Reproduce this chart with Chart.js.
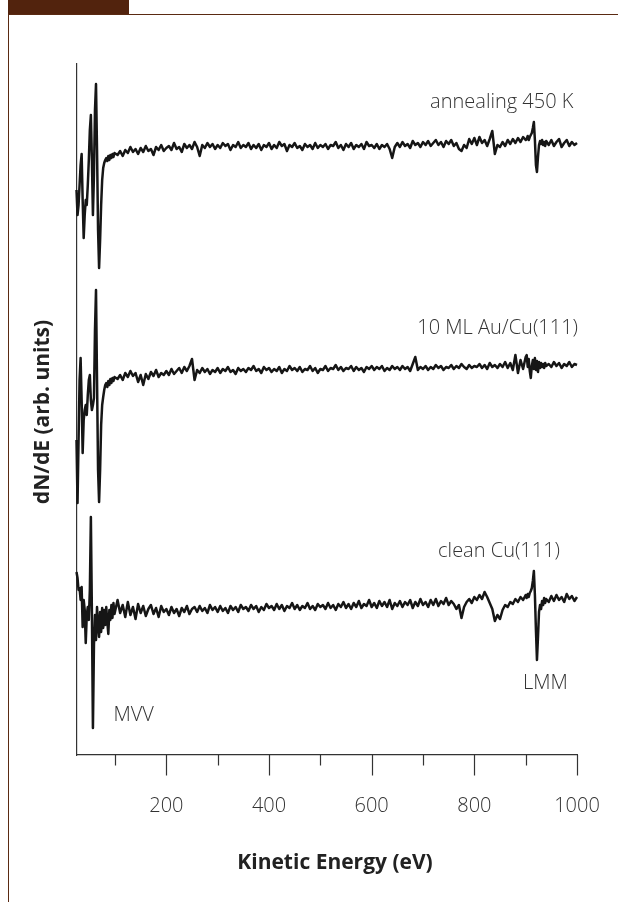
<!DOCTYPE html>
<html>
<head>
<meta charset="utf-8">
<script src="https://cdn.jsdelivr.net/npm/chart.js@4.4.0/dist/chart.umd.min.js"></script>
<style>
  html, body { margin: 0; padding: 0; background: #fff; }
  #wrap { position: relative; width: 618px; height: 902px; overflow: hidden; }
  #tab { position: absolute; left: 8px; top: 0; width: 121px; height: 14px; background: #52230d; }
  #rule { position: absolute; left: 8px; top: 14px; width: 610px; height: 1px; background: #5a2a12; }
  #side { position: absolute; left: 8px; top: 14px; width: 1px; height: 888px; background: #5a2a12; }
  canvas { position: absolute; left: 0; top: 0; }
</style>
</head>
<body>
<div id="wrap">
  <canvas id="myChart" width="618" height="902"></canvas>
  <div id="tab"></div><div id="rule"></div><div id="side"></div>
</div>
<script>
// kinetic energy (eV)
let energy = [
  25, 27, 29, 31, 33, 35, 37, 39, 41, 43, 45, 47, 49, 51, 53, 55, 57, 59, 61, 63,
  65, 67, 69, 71, 73, 75, 77, 79, 81, 83, 85, 87, 89, 91, 93, 95, 97, 99,
  105, 110, 115, 120, 125, 130, 135, 140, 145, 150,
  155, 160, 165, 170, 175, 180, 185, 190, 195, 200,
  205, 210, 215, 220, 225, 230, 235, 240, 245, 250,
  255, 260, 265, 270, 275, 280, 285, 290, 295, 300,
  305, 310, 315, 320, 325, 330, 335, 340, 345, 350,
  355, 360, 365, 370, 375, 380, 385, 390, 395, 400,
  405, 410, 415, 420, 425, 430, 435, 440, 445, 450,
  455, 460, 465, 470, 475, 480, 485, 490, 495, 500,
  505, 510, 515, 520, 525, 530, 535, 540, 545, 550,
  555, 560, 565, 570, 575, 580, 585, 590, 595, 600,
  605, 610, 615, 620, 625, 630, 635, 640, 645, 650,
  655, 660, 665, 670, 675, 680, 685, 690, 695, 700,
  705, 710, 715, 720, 725, 730, 735, 740, 745, 750,
  755, 760, 765, 770, 775, 780, 785, 790, 795, 800,
  805, 810, 815, 820, 825, 830, 835, 840, 845, 850,
  855, 860, 865, 870, 875, 880, 885, 890, 895, 900,
  902, 904, 906, 908, 910, 912, 914, 916, 918, 920,
  922, 924, 926, 928, 930, 932, 934, 936, 938, 940,
  945, 950, 955, 960, 965, 970, 975, 980, 985, 990, 995, 1000,
  1003
];

// dN/dE, arb. units (stacked as in the figure)
let annealed = [
  56.5, 54.0, 55.0, 57.0, 59.0, 60.1, 55.5, 51.7, 54.0, 55.5, 55.0, 57.0, 59.5, 62.5, 64.0, 59.5, 54.0, 58.0, 64.5, 67.1,
  60.5, 52.5, 48.7, 51.5, 55.0, 57.5, 58.7, 59.2, 59.5, 59.7, 59.4, 59.9, 59.5, 60.0, 59.7, 60.1, 59.8, 60.2,
  60.0, 60.4, 59.9, 60.5, 60.2, 60.8, 60.3, 60.6, 60.1, 60.7,
  60.3, 60.9, 60.4, 60.6, 60.0, 60.8, 60.5, 61.0, 60.4, 60.7,
  60.9, 60.5, 61.2, 60.6, 60.8, 60.3, 61.1, 60.7, 61.0, 60.6,
  61.3, 60.8, 59.9, 61.0, 60.7, 61.2, 60.8, 61.1, 60.6, 61.0,
  60.7, 61.2, 60.9, 61.1, 60.5, 61.0, 60.8, 61.3, 60.7, 61.0,
  60.8, 61.2, 60.6, 61.0, 60.7, 61.1, 60.5, 61.0, 60.8, 61.2,
  60.6, 61.0, 60.7, 61.3, 60.9, 61.1, 60.4, 61.0, 60.8, 61.2,
  60.7, 60.9, 60.5, 61.1, 60.8, 61.0, 60.6, 61.2, 60.7, 61.0,
  60.8, 61.1, 60.6, 61.0, 60.9, 61.3, 60.7, 61.0, 60.5, 61.1,
  60.8, 61.2, 60.6, 61.0, 60.8, 61.1, 60.6, 61.3, 60.9, 61.0,
  60.7, 61.1, 60.6, 61.0, 60.8, 61.1, 60.6, 59.7, 60.8, 61.2,
  60.8, 61.3, 60.9, 61.1, 60.7, 61.4, 61.0, 61.2, 60.8, 61.3,
  61.0, 61.4, 60.9, 61.2, 61.5, 61.0, 61.3, 60.8, 61.4, 61.1,
  61.5, 60.9, 61.2, 60.6, 60.4, 61.0, 60.7, 61.6, 61.1, 61.7,
  61.0, 61.8, 61.2, 61.5, 60.9, 61.6, 62.4, 60.1, 61.0, 60.8,
  61.3, 60.9, 61.5, 61.1, 61.6, 61.2, 61.7, 61.3, 61.8, 61.5,
  61.6, 61.9, 61.5, 61.8, 62.0, 62.2, 62.7, 63.3, 61.5, 59.0,
  58.3, 59.8, 61.0, 61.4, 61.1, 61.5, 61.0, 61.3, 60.9, 61.4,
  61.0, 61.5, 60.9, 61.3, 61.6, 60.8, 61.2, 61.5, 60.9, 61.3, 61.0, 61.2,
  60.8
];

let auFilm = [
  31.5, 25.2, 31.5, 37.5, 39.7, 35.5, 30.2, 33.5, 34.5, 35.0, 34.0, 36.0, 37.5, 38.0, 35.5, 34.5, 35.0, 35.7, 42.5, 46.5,
  37.5, 28.5, 25.3, 28.5, 33.0, 35.0, 35.8, 36.5, 37.0, 37.2, 36.8, 37.4, 37.0, 37.6, 37.2, 37.7, 37.4, 37.8,
  37.6, 38.0, 37.5, 38.2, 37.8, 38.4, 37.9, 38.2, 37.3, 38.0,
  37.0, 38.1, 37.6, 38.3, 37.9, 38.5, 37.8, 38.2, 38.0, 38.4,
  38.0, 38.6, 38.1, 38.4, 38.7, 38.2, 38.8, 38.4, 38.9, 39.6,
  37.5, 38.5, 38.2, 38.7, 38.3, 38.6, 38.1, 38.5, 38.3, 38.7,
  38.2, 38.6, 38.4, 38.8, 38.3, 38.5, 38.1, 38.7, 38.4, 38.6,
  38.3, 38.7, 38.5, 38.9, 38.4, 38.6, 38.2, 38.8, 38.5, 38.7,
  38.3, 38.6, 38.4, 38.8, 38.2, 38.6, 38.4, 38.9, 38.5, 38.7,
  38.4, 38.8, 38.3, 38.6, 38.5, 38.9, 38.4, 38.7, 38.2, 38.6,
  38.5, 38.9, 38.4, 38.7, 38.6, 39.0, 38.5, 38.8, 38.4, 38.7,
  38.6, 38.9, 38.4, 38.8, 38.5, 38.7, 38.3, 38.8, 38.6, 38.9,
  38.5, 38.8, 38.6, 38.9, 38.4, 38.7, 38.5, 38.9, 38.6, 38.8,
  38.5, 38.9, 38.6, 38.8, 38.4, 39.1, 39.8, 38.5, 38.8, 38.6,
  38.9, 38.5, 38.8, 38.6, 39.0, 38.7, 38.9, 38.5, 38.8, 38.7,
  39.0, 38.6, 38.9, 38.7, 39.1, 38.8, 38.6, 39.0, 38.7, 38.9,
  38.8, 39.1, 38.7, 39.0, 38.6, 39.2, 38.8, 39.0, 38.7, 39.1,
  38.8, 39.3, 38.7, 39.2, 38.5, 40.0, 38.2, 39.5, 38.6, 39.8,
  40.0, 38.8, 39.6, 38.4, 37.7, 38.9, 39.5, 38.6, 39.7, 38.5,
  39.4, 38.3, 39.3, 38.7, 39.2, 38.8, 39.1, 38.7, 39.2, 38.9,
  39.1, 38.8, 39.3, 38.9, 39.2, 38.7, 39.1, 38.9, 39.3, 38.8, 39.1, 39.0,
  39.0
];

let cleanCu = [
  18.3, 17.7, 16.5, 16.7, 15.5, 16.8, 12.8, 15.5, 14.5, 11.2, 14.0, 14.8, 13.5, 16.5, 23.8, 14.3, 2.7, 11.0, 14.0, 11.5,
  14.8, 13.0, 11.8, 14.3, 12.3, 14.7, 12.7, 14.5, 13.0, 14.8, 13.3, 12.1, 14.5, 13.5, 15.0, 13.7, 15.2, 14.1,
  15.5, 14.2, 15.0, 13.8, 15.3, 14.0, 14.8, 13.6, 15.1, 14.2,
  14.9, 13.9, 14.6, 15.0, 14.1, 14.7, 13.8, 14.9, 14.3, 14.6,
  14.0, 14.8, 14.2, 14.6, 13.9, 14.7, 14.3, 14.9, 14.1, 14.6,
  14.8, 14.3, 14.9, 14.4, 14.7, 14.2, 15.0, 14.5, 14.8, 14.3,
  14.9, 14.4, 14.7, 14.2, 14.9, 14.5, 14.8, 14.3, 15.0, 14.6,
  14.8, 14.4, 15.0, 14.6, 14.9, 14.3, 14.8, 14.5, 15.1, 14.7,
  14.9, 14.5, 15.1, 14.6, 15.0, 14.4, 14.9, 14.7, 15.2, 14.6,
  15.0, 14.5, 14.9, 14.7, 15.2, 14.6, 14.9, 14.5, 15.1, 14.8,
  15.0, 14.6, 15.2, 14.7, 15.0, 14.5, 15.1, 14.8, 15.3, 14.7,
  15.1, 14.6, 15.2, 14.8, 15.4, 14.7, 15.1, 14.9, 15.5, 14.8,
  15.2, 14.7, 15.4, 14.9, 15.3, 14.8, 15.5, 14.6, 15.2, 14.9,
  15.4, 14.8, 15.3, 15.0, 15.5, 14.7, 15.3, 14.9, 15.6, 15.0,
  15.3, 14.8, 15.5, 15.0, 15.6, 14.9, 15.4, 15.1, 15.7, 15.0,
  15.4, 15.1, 14.6, 15.0, 13.7, 14.8, 15.3, 15.6, 15.2, 15.8,
  15.5, 16.0, 15.6, 16.3, 15.8, 15.2, 14.6, 13.4, 14.0, 13.6,
  14.5, 15.0, 14.8, 15.3, 15.1, 15.6, 15.3, 15.8, 15.5, 16.0,
  15.7, 16.1, 15.8, 16.2, 16.4, 16.7, 17.4, 18.4, 16.0, 12.5,
  9.5, 11.8, 14.3, 15.0, 14.6, 15.4, 15.0, 15.7, 15.2, 15.6,
  15.3, 15.9, 15.4, 16.0, 15.5, 15.8, 15.3, 16.1, 15.6, 15.9, 15.4, 15.8,
  15.8
];

let tickLabels = [200, 400, 600, 800, 1000];
let minorTicks = [100, 300, 500, 700, 900];

// text placed in data units
let notes = [
  {text: 'annealing 450 K', x: 993, y: 64.7, align: 'right'},
  {text: '10 ML Au/Cu(111)', x: 1002, y: 42.1, align: 'right'},
  {text: 'clean Cu(111)', x: 967, y: 19.8, align: 'right'},
  {text: 'LMM', x: 895, y: 6.6, align: 'left'},
  {text: 'MVV', x: 97, y: 3.4, align: 'left'}
];

let decorations = {
  id: 'decorations',
  afterDraw(chart) {
    let x = chart.scales.x, y = chart.scales.y, c = chart.ctx;
    c.save();
    c.strokeStyle = '#333';
    c.lineWidth = 1.2;
    let tick = (v, len) => {
      let px = Math.round(x.getPixelForValue(v)) + 0.5;
      c.beginPath();
      c.moveTo(px, y.bottom);
      c.lineTo(px, y.bottom + len);
      c.stroke();
    };
    minorTicks.forEach(v => tick(v, 10.5));
    tickLabels.forEach(v => tick(v, 20.5));

    c.fillStyle = '#333';
    c.font = '300 20px "Open Sans"';
    c.textBaseline = 'alphabetic';
    notes.forEach(n => {
      c.textAlign = n.align;
      c.fillText(n.text, x.getPixelForValue(n.x), y.getPixelForValue(n.y));
    });

    c.fillStyle = '#222';
    c.font = 'bold 21px "Open Sans"';
    c.textAlign = 'center';
    c.textBaseline = 'middle';
    c.fillText('Kinetic Energy (eV)', 335, 863);
    c.translate(43.5, 412);
    c.rotate(-Math.PI / 2);
    c.fillText('dN/dE (arb. units)', 0, 0);
    c.restore();
  }
};

let ctx = document.getElementById('myChart').getContext('2d');
let myChart = new Chart(ctx, {
  type: 'line',
  data: {
    datasets: [annealed, auFilm, cleanCu].map(vals => ({
      data: energy.map((e, i) => ({x: e, y: vals[i]})),
      borderColor: '#161616',
      borderWidth: 2.5,
      borderJoinStyle: 'round',
      pointRadius: 0,
      tension: 0,
      fill: false,
      clip: false
    }))
  },
  options: {
    responsive: false,
    animation: false,
    layout: {padding: {top: 64, right: 41, bottom: 0, left: 0}},
    plugins: {legend: {display: false}, tooltip: {enabled: false}},
    scales: {
      x: {
        type: 'linear', min: 25, max: 1000,
        afterBuildTicks: s => { s.ticks = tickLabels.map(v => ({value: v})); },
        afterFit: s => { s.height = 147; s.paddingLeft = 0; s.paddingRight = 0; },
        grid: {display: false, drawTicks: false},
        border: {display: true, color: '#333', width: 1.2},
        ticks: {padding: 39, color: '#333', autoSkip: false, maxRotation: 0,
          callback: v => String(v),
          font: {family: 'Open Sans', size: 20, weight: 300}}
      },
      y: {
        min: 0, max: 69.1,
        afterFit: s => { s.width = 76.5; s.paddingTop = 0; s.paddingBottom = 0; },
        grid: {display: false, drawTicks: false},
        border: {display: true, color: '#333', width: 1.2},
        ticks: {display: false}
      }
    }
  },
  plugins: [decorations]
});
</script>
</body>
</html>
